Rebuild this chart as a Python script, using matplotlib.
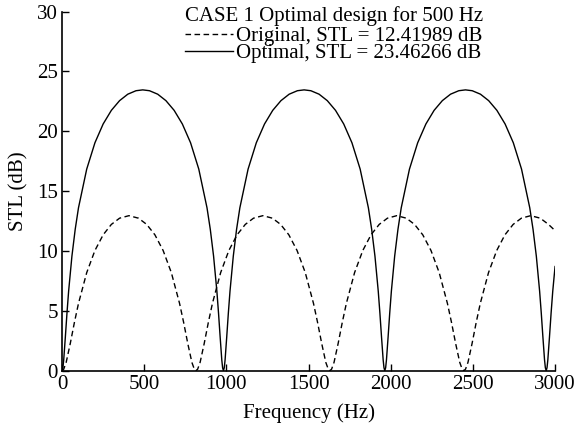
import matplotlib
matplotlib.use("Agg")
import matplotlib.pyplot as plt

plt.rcParams['font.family'] = ['Liberation Serif', 'DejaVu Serif']

# Optimal design curve
opt_freq = [0, 5, 10, 20, 30, 40, 60, 80, 100, 150, 200, 250, 300, 350, 400, 450, 491,
            532, 582, 632, 682, 732, 782, 832, 882, 902, 922, 942, 952, 962, 972, 977, 982,
            987, 992, 1002, 1012, 1022, 1042, 1062, 1082, 1132, 1182, 1232, 1282, 1332, 1382, 1432, 1473,
            1514, 1564, 1614, 1664, 1714, 1764, 1814, 1864, 1884, 1904, 1924, 1934, 1944, 1954, 1959, 1964,
            1969, 1974, 1984, 1994, 2004, 2024, 2044, 2064, 2114, 2164, 2214, 2264, 2314, 2364, 2414, 2455,
            2496, 2546, 2596, 2646, 2696, 2746, 2796, 2846, 2866, 2886, 2906, 2916, 2926, 2936, 2941, 2946,
            2951, 2956, 2966, 2976, 2986, 3000]
opt_stl = [0.0,
           0.24, 0.89, 2.81, 4.83, 6.65, 9.57, 11.81, 13.61, 16.84, 19.04, 20.61, 21.75, 22.56, 23.10, 23.39, 23.46,
           23.39, 23.10, 22.56, 21.75, 20.61, 19.04, 16.84, 13.61, 11.81, 9.57, 6.65, 4.83, 2.81, 0.89, 0.24, 0.0,
           0.24, 0.89, 2.81, 4.83, 6.65, 9.57, 11.81, 13.61, 16.84, 19.04, 20.61, 21.75, 22.56, 23.10, 23.39, 23.46,
           23.39, 23.10, 22.56, 21.75, 20.61, 19.04, 16.84, 13.61, 11.81, 9.57, 6.65, 4.83, 2.81, 0.89, 0.24, 0.0,
           0.24, 0.89, 2.81, 4.83, 6.65, 9.57, 11.81, 13.61, 16.84, 19.04, 20.61, 21.75, 22.56, 23.10, 23.39, 23.46,
           23.39, 23.10, 22.56, 21.75, 20.61, 19.04, 16.84, 13.61, 11.81, 9.57, 6.65, 4.83, 2.81, 0.89, 0.24, 0.0,
           0.24, 0.89, 2.81, 4.83, 6.65, 8.7]

# Original design curve
orig_freq = [0, 10, 25, 50, 75, 100, 150, 200, 250, 300, 350, 407, 465, 515, 565, 615, 665, 715, 740, 765, 790, 805, 815,
             825, 840, 865, 890, 915, 965, 1015, 1065, 1115, 1165, 1222, 1280, 1330, 1380, 1430, 1480, 1530, 1555, 1580, 1605, 1620, 1630,
             1640, 1655, 1680, 1705, 1730, 1780, 1830, 1880, 1930, 1980, 2037, 2095, 2145, 2195, 2245, 2295, 2345, 2370, 2395, 2420, 2435, 2445,
             2455, 2470, 2495, 2520, 2545, 2595, 2645, 2695, 2745, 2795, 2852, 2910, 2960, 3000]
orig_stl = [0.0, 0.12, 0.69, 2.27, 4.02, 5.62, 8.19, 10.04, 11.35, 12.22, 12.74, 12.95, 12.74, 12.22, 11.35, 10.04, 8.19, 5.62, 4.02, 2.27, 0.69, 0.12, 0.0,
            0.12, 0.69, 2.27, 4.02, 5.62, 8.19, 10.04, 11.35, 12.22, 12.74, 12.95, 12.74, 12.22, 11.35, 10.04, 8.19, 5.62, 4.02, 2.27, 0.69, 0.12, 0.0,
            0.12, 0.69, 2.27, 4.02, 5.62, 8.19, 10.04, 11.35, 12.22, 12.74, 12.95, 12.74, 12.22, 11.35, 10.04, 8.19, 5.62, 4.02, 2.27, 0.69, 0.12, 0.0,
            0.12, 0.69, 2.27, 4.02, 5.62, 8.19, 10.04, 11.35, 12.22, 12.74, 12.95, 12.74, 12.22, 11.7]

xticks = [0, 500, 1000, 1500, 2000, 2500, 3000]
yticks = [0, 5, 10, 15, 20, 25, 30]
legend_title = "CASE 1 Optimal design for 500 Hz"
label_orig = "Original, STL = 12.41989 dB"
label_opt = "Optimal, STL = 23.46266 dB"

fig = plt.figure(figsize=(5.8, 4.3), dpi=100)
ax = fig.add_axes([0.107, 0.138, 0.850, 0.835])

ax.plot(orig_freq, orig_stl, color='black', lw=1.0, ls=(0, (4, 2.5)), label=label_orig)
ax.plot(opt_freq, opt_stl, color='black', lw=1.0, label=label_opt)

ax.set_xlim(0, 3000)
ax.set_ylim(0, 30)
ax.set_xticks(xticks)
ax.set_yticks(yticks)
ax.spines['top'].set_visible(False)
ax.spines['right'].set_visible(False)
for s in ['left', 'bottom']:
    ax.spines[s].set_linewidth(1.2)
ax.tick_params(direction='in', length=5, width=1.0, labelsize=15, pad=3)
ax.set_xlabel("Frequency (Hz)", fontsize=15, labelpad=7)
ax.set_ylabel("STL (dB)", fontsize=15, labelpad=6)

leg = ax.legend(loc='upper left', bbox_to_anchor=(0.22, 1.055), frameon=False,
                fontsize=15, title=legend_title, title_fontsize=15, alignment='left',
                handlelength=2.3, handletextpad=0.15, labelspacing=-0.12, borderpad=0.2)
leg._legend_box.sep = 0

fig.savefig("out.png", dpi=100)
